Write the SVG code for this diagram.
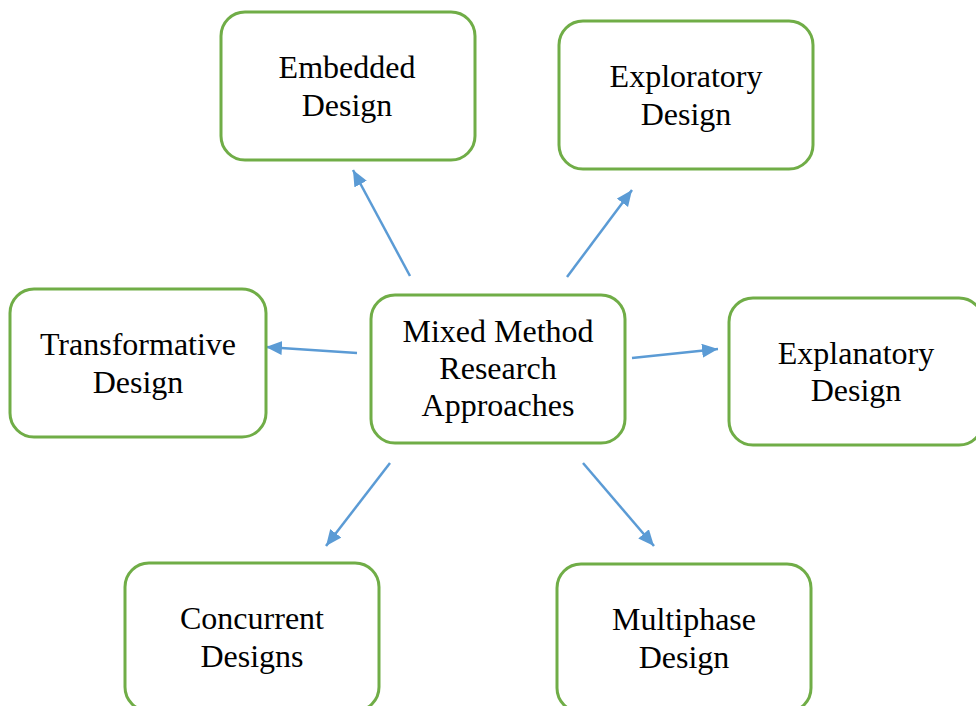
<svg xmlns="http://www.w3.org/2000/svg" width="976" height="706" viewBox="0 0 976 706">
<style>
.box{fill:#fff;stroke:#70AD47;stroke-width:3}
.t{font-family:'Liberation Serif',Tinos,'Times New Roman',Times,serif;font-size:32px;fill:#000;text-anchor:middle}
.c{stroke:#5B9BD5;stroke-width:2.5;fill:none;marker-end:url(#ah)}
</style>
<defs>
<marker id="ah" markerUnits="userSpaceOnUse" markerWidth="18" markerHeight="16" refX="16" refY="7" orient="auto">
<path d="M0,0 L16,7 L0,14 Z" fill="#5B9BD5"/>
</marker>
</defs>
<rect width="976" height="706" fill="#fff"/>
<g id="connectors">
<line class="c" x1="410" y1="276" x2="353" y2="170"/>
<line class="c" x1="567" y1="277" x2="632" y2="190"/>
<line class="c" x1="357" y1="353" x2="266" y2="347"/>
<line class="c" x1="632" y1="358" x2="718" y2="349"/>
<line class="c" x1="390" y1="463" x2="326" y2="546"/>
<line class="c" x1="583" y1="463" x2="654" y2="546"/>
</g>
<g id="embedded"><rect class="box" x="221" y="12" width="254" height="148" rx="24"/>
<text class="t" x="347" y="78">Embedded</text><text class="t" x="347" y="116">Design</text></g>
<g id="exploratory"><rect class="box" x="559" y="21" width="254" height="148" rx="24"/>
<text class="t" x="686" y="87">Exploratory</text><text class="t" x="686" y="125">Design</text></g>
<g id="transformative"><rect class="box" x="10" y="289" width="256" height="148" rx="24"/>
<text class="t" x="138" y="355">Transformative</text><text class="t" x="138" y="393">Design</text></g>
<g id="mixed"><rect class="box" x="371" y="295" width="254" height="148" rx="24"/>
<text class="t" x="498" y="342">Mixed Method</text><text class="t" x="498" y="379">Research</text><text class="t" x="498" y="416">Approaches</text></g>
<g id="explanatory"><rect class="box" x="729" y="298" width="254" height="147" rx="24"/>
<text class="t" x="856" y="364">Explanatory</text><text class="t" x="856" y="401">Design</text></g>
<g id="concurrent"><rect class="box" x="125" y="563" width="254" height="148" rx="24"/>
<text class="t" x="252" y="629">Concurrent</text><text class="t" x="252" y="667">Designs</text></g>
<g id="multiphase"><rect class="box" x="557" y="564" width="254" height="148" rx="24"/>
<text class="t" x="684" y="630">Multiphase</text><text class="t" x="684" y="668">Design</text></g>
</svg>
